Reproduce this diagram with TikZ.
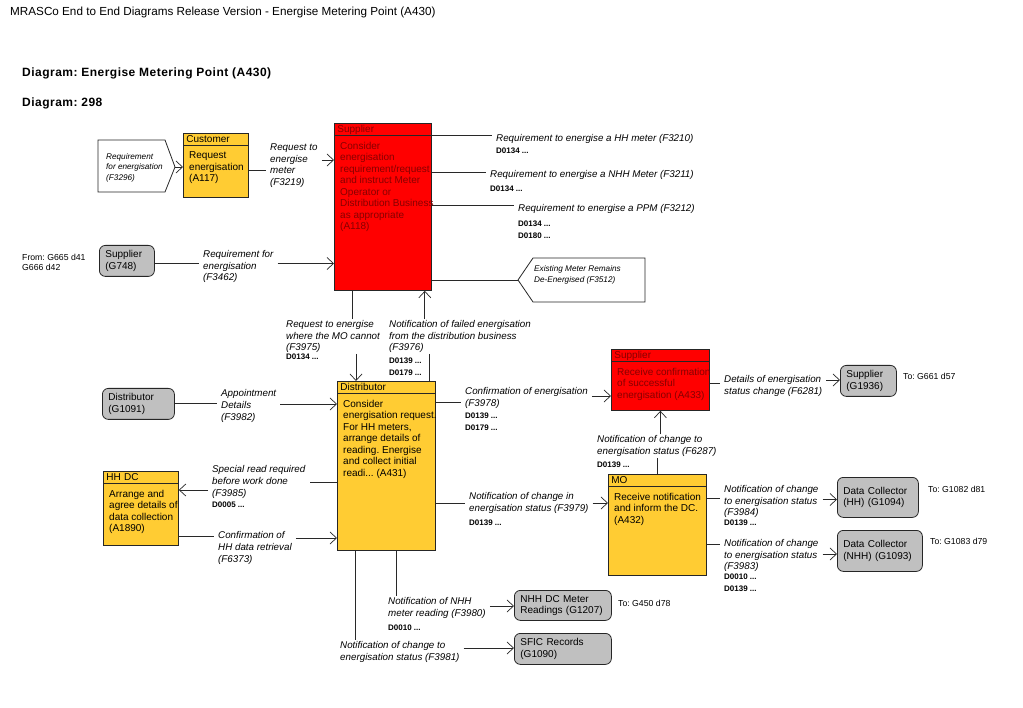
\documentclass[tikz,border=0pt]{standalone}
\usepackage{fontspec}
\setmainfont{Liberation Sans}
\usepackage{xcolor}
\usetikzlibrary{arrows.meta,positioning}
\frenchspacing

\definecolor{procorange}{RGB}{255,204,51}
\definecolor{procred}{RGB}{255,0,0}
\definecolor{redtext}{RGB}{135,0,0}
\definecolor{extgray}{RGB}{192,192,192}
\definecolor{flowgray}{RGB}{40,40,40}

\begin{document}
\begin{tikzpicture}[x=1pt,y=-1pt,
	procbox/.style={draw=black!85,line width=0.8pt,anchor=north west,inner sep=0pt},
	prochead/.style={draw=black!85,line width=0.8pt,anchor=north west,minimum height=12pt,
		inner xsep=3pt,inner ysep=0pt,text height=7.5pt,text depth=1.5pt,
		font=\fontsize{10}{11}\selectfont},
	proctext/.style={anchor=north west,align=left,inner xsep=6pt,inner ysep=3pt,
		font=\fontsize{10}{11.5}\selectfont},
	extbox/.style={draw=black!85,line width=0.8pt,fill=extgray,rounded corners=6pt,
		anchor=north west,align=left,inner xsep=6pt,inner ysep=2pt,
		font=\fontsize{10}{11.5}\selectfont},
	flowlabel/.style={anchor=west,align=left,inner xsep=4pt,inner ysep=1pt,
		font=\itshape\fontsize{9.8}{11.6}\selectfont},
	dcode/.style={anchor=west,inner sep=0pt,font=\bfseries\fontsize{8}{9}\selectfont},
	refnote/.style={anchor=west,align=left,inner sep=0pt,font=\fontsize{8.7}{10.5}\selectfont},
	pentagon/.style={draw=black!85,line width=0.8pt,fill=white},
	pentlabel/.style={anchor=west,align=left,inner sep=0pt,font=\itshape\fontsize{8.2}{10.5}\selectfont},
	flowline/.style={draw=flowgray,line width=0.7pt},
	flow/.style={flowline,-{Straight Barb[length=6.5pt,width=12pt]}}]

	\fill[white] (0,0) rectangle (1023,708);
	\useasboundingbox (0,0) rectangle (1023,708);

	% titles
	\node[anchor=west,inner sep=0pt,font=\fontsize{11.7}{13}\selectfont] (title) at (10,12)
		{MRASCo End to End Diagrams Release Version - Energise Metering Point (A430)};
	\node[anchor=west,inner sep=0pt,font=\bfseries\fontsize{12}{14}\selectfont\addfontfeature{LetterSpace=4}] (diagname) at (22,73)
		{Diagram: Energise Metering Point (A430)};
	\node[anchor=west,inner sep=0pt,font=\bfseries\fontsize{12}{14}\selectfont\addfontfeature{LetterSpace=4}] (diagno) at (22,103)
		{Diagram: 298};

	% processes
	\node[procbox,fill=procorange,minimum width=65pt,minimum height=64pt] (cust) at (183,133) {};
	\node[prochead,fill=procorange,text width=59pt] (custhead) at (cust.north west) {Customer};
	\node[proctext] (custtext) at ([yshift=-3pt]custhead.south west) {Request\\energisation\\(A117)};

	\node[procbox,fill=procred,minimum width=97pt,minimum height=167pt] (supA) at (334,123) {};
	\node[prochead,fill=procred,text=redtext,text width=91pt] (supAhead) at (supA.north west) {Supplier};
	\node[proctext,text=redtext] (supAtext) at ([yshift=-3pt]supAhead.south west)
		{Consider\\energisation\\requirement/request\\and instruct Meter\\Operator or\\Distribution Business\\as appropriate\\(A118)};

	\node[procbox,fill=procorange,minimum width=98pt,minimum height=169pt] (dist) at (337,381) {};
	\node[prochead,fill=procorange,text width=92pt] (disthead) at (dist.north west) {Distributor};
	\node[proctext] (disttext) at ([yshift=-3pt]disthead.south west)
		{Consider\\energisation request.\\For HH meters,\\arrange details of\\reading. Energise\\and collect initial\\readi... (A431)};

	\node[procbox,fill=procred,minimum width=98pt,minimum height=61pt] (supB) at (611,349) {};
	\node[prochead,fill=procred,text=redtext,text width=92pt] (supBhead) at (supB.north west) {Supplier};
	\node[proctext,text=redtext] (supBtext) at ([yshift=-3pt]supBhead.south west)
		{Receive confirmation\\of successful\\energisation (A433)};

	\node[procbox,fill=procorange,minimum width=98pt,minimum height=101pt] (mo) at (608,474) {};
	\node[prochead,fill=procorange,text width=92pt] (mohead) at (mo.north west) {MO};
	\node[proctext] (motext) at ([yshift=-3pt]mohead.south west)
		{Receive notification\\and inform the DC.\\(A432)};

	\node[procbox,fill=procorange,minimum width=75pt,minimum height=74pt] (hhdc) at (103,471) {};
	\node[prochead,fill=procorange,text width=69pt] (hhdchead) at (hhdc.north west) {HH DC};
	\node[proctext] (hhdctext) at ([yshift=-3pt]hhdchead.south west)
		{Arrange and\\agree details of\\data collection\\(A1890)};

	% external parties
	\node[extbox,text width=43pt,minimum height=31pt] (supG748) at (99,245) {Supplier\\(G748)};
	\node[extbox,text width=60pt,minimum height=31pt] (distG1091) at (102,388) {Distributor\\(G1091)};
	\node[extbox,text width=44pt,minimum height=31pt] (supG1936) at (840,365) {Supplier\\(G1936)};
	\node[extbox,text width=69pt,minimum height=40pt] (dcHH) at (837,477) {Data Collector\\(HH) (G1094)};
	\node[extbox,text width=73pt,minimum height=41pt] (dcNHH) at (837,530) {Data Collector\\(NHH) (G1093)};
	\node[extbox,text width=85pt,minimum height=30pt] (nhhdc) at (514,590) {NHH DC Meter\\Readings (G1207)};
	\node[extbox,text width=85pt,minimum height=31pt] (sfic) at (514,633) {SFIC Records\\(G1090)};

	\node[refnote] (fromG748) at (22,262.5) {From: G665 d41\\G666 d42};
	\node[refnote] (toG1936) at (903,376) {To: G661 d57};
	\node[refnote] (toG1094) at (928,489) {To: G1082 d81};
	\node[refnote] (toG1093) at (930,541) {To: G1083 d79};
	\node[refnote] (toG1207) at (618,603) {To: G450 d78};

	% interface arrows
	\coordinate (inTip) at (175,167);
	\draw[pentagon] (98,140) -- (165,140) -- (inTip) -- (165,192) -- (98,192) -- cycle;
	\node[pentlabel] (lF3296) at (106,167.5) {Requirement\\for energisation\\(F3296)};
	\coordinate (outTip) at (518,280);
	\draw[pentagon] (outTip) -- (533,258) -- (645,258) -- (645,302) -- (533,302) -- cycle;
	\node[pentlabel] (lF3512) at (534,275) {Existing Meter Remains\\De-Energised (F3512)};

	% flow labels
	\node[flowlabel] (lF3219) at (266,165.5) {Request to\\energise\\meter\\(F3219)};
	\node[flowlabel] (lF3462) at (199,266.5) {Requirement for\\energisation\\(F3462)};
	\node[flowlabel] (lF3210) at (492,139) {Requirement to energise a HH meter (F3210)};
	\node[flowlabel] (lF3211) at (486,175) {Requirement to energise a NHH Meter (F3211)};
	\node[flowlabel] (lF3212) at (514,209) {Requirement to energise a PPM (F3212)};
	\node[flowlabel] (lF3975) at (282,336.5) {Request to energise\\where the MO cannot\\(F3975)};
	\node[flowlabel] (lF3976) at (385,336.5) {Notification of failed energisation\\from the distribution business\\(F3976)};
	\node[flowlabel] (lF3982) at (217,406) {Appointment\\Details\\(F3982)};
	\node[flowlabel] (lF3985) at (208,482) {Special read required\\before work done\\(F3985)};
	\node[flowlabel] (lF6373) at (214,548) {Confirmation of\\HH data retrieval\\(F6373)};
	\node[flowlabel] (lF3978) at (461,398) {Confirmation of energisation\\(F3978)};
	\node[flowlabel] (lF3979) at (465,503) {Notification of change in\\energisation status (F3979)};
	\node[flowlabel] (lF6281) at (720,386) {Details of energisation\\status change (F6281)};
	\node[flowlabel] (lF6287) at (593,446) {Notification of change to\\energisation status (F6287)};
	\node[flowlabel] (lF3984) at (720,501.5) {Notification of change\\to energisation status\\(F3984)};
	\node[flowlabel] (lF3983) at (720,555.5) {Notification of change\\to energisation status\\(F3983)};
	\node[flowlabel] (lF3980) at (384,608) {Notification of NHH\\meter reading (F3980)};
	\node[flowlabel] (lF3981) at (336,652) {Notification of change to\\energisation status (F3981)};

	% data items
	\node[dcode] (dF3210a) at (496,151) {D0134 ...};
	\node[dcode] (dF3211a) at (490,189) {D0134 ...};
	\node[dcode] (dF3212a) at (518,224) {D0134 ...};
	\node[dcode] (dF3212b) at (518,236) {D0180 ...};
	\node[dcode] (dF3975a) at (286,357) {D0134 ...};
	\node[dcode] (dF3976a) at (389,361) {D0139 ...};
	\node[dcode] (dF3976b) at (389,373) {D0179 ...};
	\node[dcode] (dF3985a) at (212,505) {D0005 ...};
	\node[dcode] (dF3978a) at (465,416) {D0139 ...};
	\node[dcode] (dF3978b) at (465,428) {D0179 ...};
	\node[dcode] (dF3979a) at (469,523) {D0139 ...};
	\node[dcode] (dF6287a) at (597,465) {D0139 ...};
	\node[dcode] (dF3984a) at (724,523) {D0139 ...};
	\node[dcode] (dF3983a) at (724,577) {D0010 ...};
	\node[dcode] (dF3983b) at (724,589) {D0139 ...};
	\node[dcode] (dF3980a) at (388,628) {D0010 ...};

	% connectors
	\draw[flow] (inTip) -- (inTip -| cust.west);
	\draw[flowline] ([yshift=-5pt]cust.east) -- ([yshift=-5pt]cust.east -| lF3219.west);
	\draw[flow] ([yshift=5.5pt]lF3219.east) -- ([yshift=5.5pt]lF3219.east -| supA.west);
	\draw[flowline] ([yshift=3pt]lF3462.west -| supG748.east) -- ([yshift=3pt]lF3462.west);
	\draw[flow] ([yshift=3pt]lF3462.east) -- ([yshift=3pt]lF3462.east -| supA.west);

	\draw[flowline] ([yshift=4pt]lF3210.west -| supA.east) -- ([yshift=4pt]lF3210.west);
	\draw[flowline] ([yshift=3pt]lF3211.west -| supA.east) -- ([yshift=3pt]lF3211.west);
	\draw[flowline] ([yshift=4pt]lF3212.west -| supA.east) -- ([yshift=4pt]lF3212.west);
	\draw[flowline] (outTip -| supA.east) -- (outTip);

	\draw[flowline] ([xshift=18pt]supA.south west) -- ([xshift=18pt]supA.south west |- lF3975.north);
	\draw[flow] ([xshift=19pt]dist.north west |- lF3975.south) -- ([xshift=19pt]dist.north west);
	\draw[flow] ([xshift=-7pt]supA.south east |- lF3976.north) -- ([xshift=-7pt]supA.south east);
	\draw[flowline] ([xshift=-6pt]dist.north east |- lF3976.south) -- ([xshift=-6pt]dist.north east);

	\draw[flowline] ([yshift=3pt]lF3982.west -| distG1091.east) -- ([yshift=3pt]lF3982.west);
	\draw[flow] ([yshift=2pt]lF3982.east) -- ([yshift=2pt]lF3982.east -| dist.west);
	\draw[flowline] (lF3985.east -| dist.west) -- (lF3985.east);
	\draw[flow] ([yshift=-8pt]lF3985.west) -- ([yshift=-8pt]lF3985.west -| hhdc.east);
	\draw[flowline] ([yshift=12pt]lF6373.west -| hhdc.east) -- ([yshift=12pt]lF6373.west);
	\draw[flow] ([yshift=10pt]lF6373.east) -- ([yshift=10pt]lF6373.east -| dist.west);

	\draw[flowline] ([yshift=-4pt]lF3978.west -| dist.east) -- ([yshift=-4pt]lF3978.west);
	\draw[flow] ([yshift=2pt]lF3978.east) -- ([yshift=2pt]lF3978.east -| supB.west);
	\draw[flowline] (lF3979.west -| dist.east) -- (lF3979.west);
	\draw[flow] (lF3979.east) -- (lF3979.east -| mo.west);

	\draw[flowline] ([yshift=3pt]lF6281.west -| supB.east) -- ([yshift=3pt]lF6281.west);
	\draw[flow] ([yshift=6pt]lF6281.east) -- ([yshift=6pt]lF6281.east -| supG1936.west);
	\draw[flow] (supB.south |- lF6287.north) -- (supB.south);
	\draw[flowline] (mo.north) -- (mo.north |- lF6287.south);

	\draw[flowline] ([yshift=3pt]lF3984.west -| mo.east) -- ([yshift=3pt]lF3984.west);
	\draw[flow] ([yshift=2pt]lF3984.east) -- ([yshift=2pt]lF3984.east -| dcHH.west);
	\draw[flowline] ([yshift=11.5pt]lF3983.west -| mo.east) -- ([yshift=11.5pt]lF3983.west);
	\draw[flow] ([yshift=1.5pt]lF3983.east) -- ([yshift=1.5pt]lF3983.east -| dcNHH.west);

	\draw[flowline] ([xshift=59pt]dist.south west) -- ([xshift=59pt]dist.south west |- lF3980.north);
	\draw[flow] ([yshift=2pt]lF3980.east) -- ([yshift=2pt]lF3980.east -| nhhdc.west);
	\draw[flowline] ([xshift=18pt]dist.south west) -- ([xshift=18pt]dist.south west |- lF3981.north);
	\draw[flow] ([yshift=4pt]lF3981.east) -- ([yshift=4pt]lF3981.east -| sfic.west);
\end{tikzpicture}
\end{document}
